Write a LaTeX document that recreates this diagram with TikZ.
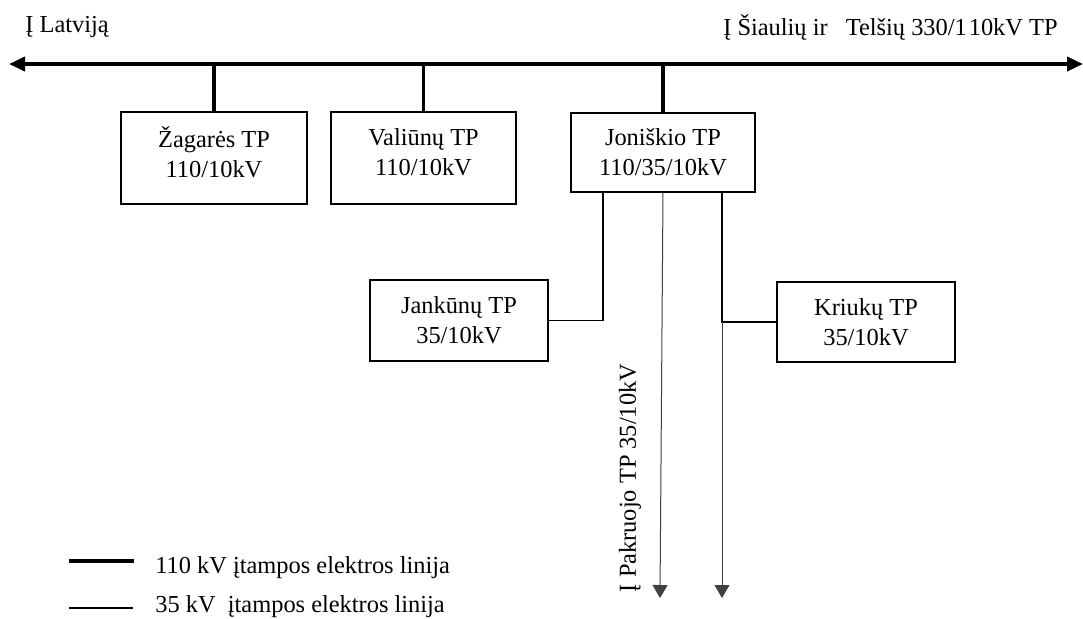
\documentclass[tikz,border=0pt]{standalone}
\usepackage{fontspec}
\setmainfont{Liberation Serif}
\usetikzlibrary{arrows.meta}
\begin{document}
\begin{tikzpicture}[x=0.5pt,y=-0.5pt,
  every node/.style={font=\fontsize{12.2}{15}\selectfont},
  tpbox/.style={draw,line width=0.8pt,align=center,inner sep=0pt},
  lbl/.style={inner sep=0pt},
  hv/.style={line width=1.9pt},
  mv/.style={line width=0.9pt},
  lv/.style={line width=0.5pt,draw=black!75},
  smalltip/.style={-{Triangle[length=6.5pt,width=7.5pt]}}]
\useasboundingbox (0,0) rectangle (1083,618);
% bus
\coordinate (busL) at (9,64);
\coordinate (busR) at (1083,64);
\draw[hv,{Triangle[length=8pt,width=7pt]}-{Triangle[length=8pt,width=7pt]}] (busL) -- (busR);
\node[lbl,anchor=west] (lv) at (25,27) {Į Latviją};
\node[lbl,anchor=east] (sia) at (1058,27) {Į Šiaulių ir\ \ \hspace{3pt}Telšių 330/1\hspace{1pt}10kV TP};
% boxes
\node[tpbox,minimum width=93pt,minimum height=46pt] (zag) at (214,158) {};
\node[lbl,align=center] (zagt) at (214,152) {Žagarės TP\\110/10kV};
\node[tpbox,minimum width=92.5pt,minimum height=46pt] (val) at (423.5,158) {};
\node[lbl,align=center] (valt) at (423.5,152) {Valiūnų TP\\110/10kV};
\node[tpbox,minimum width=92pt,minimum height=39.5pt] (jon) at (663,152.5) {Joniškio TP\\110/35/10kV};
\node[tpbox,minimum width=89pt,minimum height=40.5pt] (jank) at (459,320.5) {Jankūnų TP\\35/10kV};
\node[tpbox,minimum width=89pt,minimum height=40pt] (kri) at (866,322) {Kriukų TP\\35/10kV};
% drops from bus
\draw[hv] (zag.north) -- (zag.north |- busL);
\draw[hv] (val.north) -- (val.north |- busL);
\draw[hv] (jon.north) -- (jon.north |- busL);
% 35 kV branches
\coordinate (jl) at ([xshift=-30pt]jon.south);
\coordinate (jr) at ([xshift=29.5pt]jon.south);
\coordinate (kcorner) at (jr |- kri.west);
\draw[mv] (jl) |- (jank.east);
\draw[mv] (jr) |- (kri.west);
\coordinate (pakEnd) at (660,598);
\coordinate (krEnd) at (722,598);
\draw[lv,smalltip] (jon.south) -- (pakEnd);
\draw[lv,smalltip] (kcorner) -- (kcorner |- krEnd);
\node[lbl,rotate=90] (pak) at (630,478) {Į Pakruojo TP 35/10kV};
% legend
\coordinate (l1a) at (69,561);
\coordinate (l1b) at (134,561);
\coordinate (l2a) at (69,608);
\coordinate (l2b) at (133,608);
\draw[line width=1.8pt] (l1a) -- (l1b);
\draw[line width=0.7pt] (l2a) -- (l2b);
\node[lbl,anchor=west] (leg1) at (155,568) {110 kV įtampos elektros linija};
\node[lbl,anchor=west] (leg2) at (155,607) {35 kV\ \ įtampos elektros linija};
\end{tikzpicture}
\end{document}
